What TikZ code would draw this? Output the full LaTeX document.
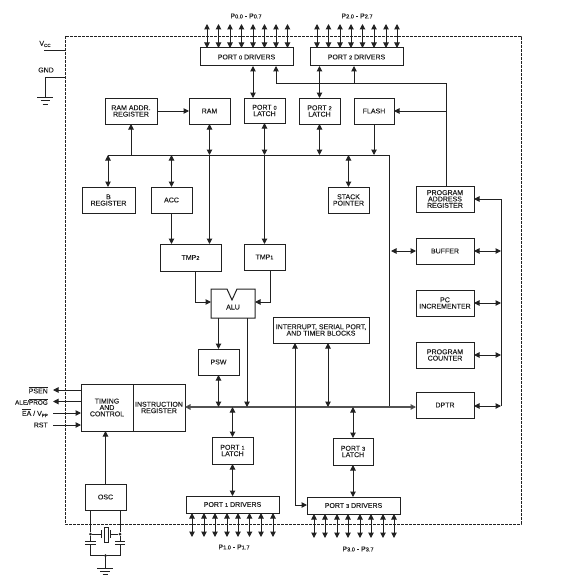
\documentclass[tikz,border=0pt]{standalone}
\usepackage{fontspec}
\setmainfont{Liberation Sans}[BoldFont={Liberation Sans},BoldFeatures={FakeBold=0.12}]
\usetikzlibrary{arrows.meta}
\newcommand{\dg}[1]{{\fontsize{5.6}{5.6}\selectfont #1}}
\newcommand{\sbs}[1]{\raisebox{-1.2pt}{\fontsize{4.5}{5}\selectfont #1}}
\newcommand{\ovl}[1]{$\overline{\mbox{#1}}$}
\newcommand{\bx}[6]{\node[blockbox,minimum width={(#4-#2)*1pt},minimum height={(#5-#3)*1pt}] (#1) at ({(#2+#4)/2},{(#3+#5)/2}) {#6};}
\definecolor{ink}{gray}{0.13}
\definecolor{busink}{gray}{0.32}
\tikzset{
  blockbox/.style={draw=ink,line width=1pt,inner sep=0pt,outer sep=0pt,align=center,font=\fontsize{7}{6.4}\selectfont\bfseries,text=ink},
  lbl/.style={inner sep=0pt,font=\fontsize{7}{7}\selectfont\bfseries,text=ink},
  wire/.style={draw=ink,line width=1pt},
  one/.style={wire,-{Triangle[length=5.5pt,width=5.5pt]}},
  two/.style={wire,{Triangle[length=5.5pt,width=5.5pt]}-{Triangle[length=5.5pt,width=5.5pt]}},
  frame/.style={draw=ink,line width=0.8pt,dash pattern=on 2.6pt off 1.4pt},
  dot/.style={circle,fill=ink,inner sep=0pt,minimum size=3pt}
}
\begin{document}
\begin{tikzpicture}[x=1pt,y=-1pt]
\useasboundingbox (0,0) rectangle (576,578);
\node[inner sep=0pt,outer sep=0pt,minimum width=456pt,minimum height=488pt] (chip) at (293,280) {};
\draw[frame] (chip.north west) rectangle (chip.south east);
% blocks
\bx{pzero}{200}{48}{293}{66}{PORT~\dg{0}~DRIVERS}
\bx{ptwo}{310}{48}{403}{66}{PORT~\dg{2}~DRIVERS}
\bx{ramaddr}{105}{98}{157}{124}{RAM ADDR.\\REGISTER}
\bx{ram}{189}{98}{230}{124}{RAM}
\bx{lzero}{244}{98}{285}{123}{PORT \dg{0}\\LATCH}
\bx{ltwo}{299}{98}{340}{124}{PORT \dg{2}\\LATCH}
\bx{flash}{354}{98}{394}{124}{FLASH}
\bx{breg}{82}{187}{135}{213}{B\\REGISTER}
\bx{acc}{151}{187}{192}{213}{ACC}
\bx{stack}{328}{187}{369}{213}{STACK\\POINTER}
\bx{par}{416}{186}{474}{212}{PROGRAM\\ADDRESS\\REGISTER}
\bx{buffer}{416}{238}{474}{264}{BUFFER}
\bx{pcinc}{416}{290}{474}{316}{PC\\INCREMENTER}
\bx{pc}{416}{342}{474}{368}{PROGRAM\\COUNTER}
\bx{dptr}{416}{392}{474}{418}{DPTR}
\bx{tmptwo}{160}{244}{221}{271}{TMP\dg{2}}
\bx{tmpone}{244}{244}{285}{270}{TMP\dg{1}}
\node[inner sep=0pt,outer sep=0pt,minimum width=44pt,minimum height=29pt,font=\fontsize{7}{7}\selectfont\bfseries,text=ink] (alu) at (233,303.5) {\raisebox{-6pt}[0pt][0pt]{ALU}};
\draw[wire,line join=miter] (alu.north west) -- ++(16,0) -- ++(5,11) -- ++(5,-11) -- (alu.north east) -- (alu.south east) -- (alu.south west) -- cycle;
\bx{psw}{198}{349}{239}{375}{PSW}
\bx{intr}{273}{317}{369}{343}{INTERRUPT, SERIAL PORT,\\AND TIMER BLOCKS}
\bx{timing}{81}{384}{133}{431}{TIMING\\AND\\CONTROL}
\bx{instr}{133}{384}{185}{431}{INSTRUCTION\\REGISTER}
\bx{osc}{85}{484}{126}{510}{OSC}
\bx{lone}{212}{437}{253}{464}{PORT \dg{1}\\LATCH}
\bx{pone}{186}{496}{279}{513}{PORT~\dg{1}~DRIVERS}
\bx{lthree}{333}{438}{373}{465}{PORT \dg{3}\\LATCH}
\bx{pthree}{307}{497}{400}{514}{PORT~\dg{3}~DRIVERS}
% labels
\node[lbl] (lpz) at (246,16) {P\dg{0.0}~-~P\dg{0.7}};
\node[lbl] (lpt) at (357,16) {P\dg{2.0}~-~P\dg{2.7}};
\node[lbl] (lpo) at (234,547) {P\dg{1.0}~-~P\dg{1.7}};
\node[lbl] (lpth) at (358,549) {P\dg{3.0}~-~P\dg{3.7}};
\node[lbl] (vcc) at (45,44) {V\sbs{CC}};
\node[lbl] (gnd) at (46,70) {GND};
\node[lbl,anchor=east] (psen) at (48,390) {\ovl{PSEN}};
\node[lbl,anchor=east] (ale) at (48,401.5) {\fontsize{6.4}{7}\selectfont ALE/\ovl{PROG}};
\node[lbl,anchor=east] (ea) at (48,413) {\ovl{EA} / V\sbs{PP}};
\node[lbl,anchor=east] (rst) at (48,425) {RST};
% pins
\foreach \x in {207,218.5,230,241.5,253,264.5,276,287.5}{\coordinate (pin) at (\x,24); \draw[two] (pin) -- (pin |- pzero.north);}
\foreach \x in {317,328.5,340,351,362.5,374,386,397}{\coordinate (pin) at (\x,24); \draw[two] (pin) -- (pin |- ptwo.north);}
\foreach \x in {192,204,215,227,238,249.5,261,273}{\coordinate (pin) at (\x,537); \draw[two] (pin |- pone.south) -- (pin);}
\foreach \x in {314,325,337,348,360,371,383,394}{\coordinate (pin) at (\x,538); \draw[two] (pin |- pthree.south) -- (pin);}
% supply
\coordinate (vccend) at (65,51); \coordinate (vccstart) at (44,51);
\draw[wire] (vccstart) -- (vccend);
\coordinate (gndin) at (65,77); \coordinate (gndbar) at (45,97);
\draw[wire] (gndin) -| (gndbar);
\draw[wire] (37,97) -- (53,97) (40.5,100.5) -- (49.5,100.5) (42.5,104) -- (47.5,104);
% buses
\coordinate (busL) at (108,155); \coordinate (busR) at (389,155);
\coordinate (ibus) at (233,407);
\draw[wire] (busL) -- (busR);
\draw[wire] (busR) -- (389,407);
\coordinate (rbusT) at (501,199); \coordinate (rbusB) at (501,406);
\draw[wire] (rbusT) -- (rbusB);
\draw[two,draw=busink,line width=1.3pt,{Triangle[length=5.5pt,width=5.5pt,fill=ink]}-{Triangle[length=5.5pt,width=5.5pt,fill=ink]}] (instr.east |- ibus) -- (dptr.west |- ibus);
% upper connectors
\coordinate (c253) at (253,0); \draw[two] (pzero.south -| c253) -- (lzero.north -| c253);
\coordinate (c319) at (319.5,0); \draw[two] (ptwo.south -| c319) -- (ltwo.north -| c319);
\draw[one] (ramaddr) -- (ram);
\coordinate (trunkT) at (446,83);
\coordinate (c276) at (276,0);
\draw[one] (par.north -| trunkT) -- (trunkT) -- (trunkT -| c276) -- (pzero.south -| c276);
\coordinate (c354) at (354,83); \draw[one] (c354) -- (ptwo.south -| c354);
\coordinate (flj) at (446,111); \draw[one] (flj) -- (flash.east |- flj);
\draw[one] (busL -| ramaddr.south) -- (ramaddr.south);
\draw[two] (ram.south) -- (ram.south |- busL);
\draw[two] (lzero.south) -- (lzero.south |- busL);
\draw[two] (ltwo.south) -- (ltwo.south |- busL);
\draw[one] (flash.south) -- (flash.south |- busL);
\draw[two] (busL) -- (breg.north -| busL);
\draw[two] (acc.north |- busL) -- (acc.north);
\draw[two] (stack.north |- busL) -- (stack.north);
\coordinate (c210) at (209.5,0); \draw[one] (busL -| c210) -- (tmptwo.north -| c210);
\coordinate (c264) at (264.5,0); \draw[one] (busL -| c264) -- (tmpone.north);
\draw[one] (acc.south) -- (tmptwo.north -| acc.south);
% alu
\coordinate (aluy) at (0,302);
\coordinate (c195) at (195,0); \coordinate (c270) at (270,0);
\draw[one] (tmptwo.south -| c195) -- (aluy -| c195) -- (alu.west |- aluy);
\draw[one] (tmpone.south -| c270) -- (aluy -| c270) -- (alu.east |- aluy);
\coordinate (c218) at (218.5,0);
\draw[one] (alu.south -| c218) -- (psw.north);
\draw[two] (psw.south) -- (ibus -| psw.south);
\coordinate (c247) at (247,0);
\draw[one] (alu.south -| c247) -- (ibus -| c247);
% lower
\draw[two] (ibus -| lone.north) -- (lone.north);
\draw[two] (lone.south) -- (pone.north -| lone.south);
\draw[two] (ibus -| lthree.north) -- (lthree.north);
\draw[two] (lthree.south) -- (pthree.north -| lthree.south);
\coordinate (c328) at (328,0);
\draw[two] (intr.south -| c328) -- (ibus -| c328);
\coordinate (c295) at (295,505);
\draw[one] (c295) -- (intr.south -| c295);
\draw[one] (c295) -- (pthree.west |- c295);
% right side
\coordinate (c391) at (391,251);
\draw[two] (c391) -- (buffer.west |- c391);
\draw[one] (rbusT) -- (par.east |- rbusT);
\draw[two] (buffer.east) -- (rbusT |- buffer.east);
\draw[two] (pcinc.east) -- (rbusT |- pcinc.east);
\draw[two] (pc.east) -- (rbusT |- pc.east);
\draw[two] (dptr.east |- rbusB) -- (rbusB);
% left side
\coordinate (c53) at (53,0);
\draw[one] (psen -| timing.west) -- (psen -| c53);
\draw[one] (ale -| timing.west) -- (ale -| c53);
\draw[one] (ea -| c53) -- (ea -| timing.west);
\draw[one] (rst -| c53) -- (rst -| timing.west);
\coordinate (c105) at (105.5,0);
\draw[one] (osc.north -| c105) -- (timing.south -| c105);
% crystal
\coordinate (xl) at (90.5,534); \coordinate (xr) at (120,534);
\coordinate (capb) at (105.5,555.5);
\node[dot] (dl) at (xl) {}; \node[dot] (dr) at (xr) {}; \node[dot] (db) at (capb) {};
\draw[wire] (osc.south -| xl) -- (dl) -- (90.5,541.5);
\draw[wire] (osc.south -| xr) -- (dr) -- (120,541.5);
\draw[wire] (85,541.5) -- (96,541.5) (115,541.5) -- (125,541.5);
\draw[wire] (85,544.5) -- (96,544.5) (115,544.5) -- (125,544.5);
\draw[wire] (90.5,544.5) |- (db) -| (120,544.5);
\draw[wire] (dl) -- (101,534) (101,530) -- (101,538);
\draw[wire] (dr) -- (110.5,534) (110.5,530) -- (110.5,538);
\draw[wire] (104,527) rectangle (108,542);
\draw[wire] (db) -- (105.5,568);
\draw[wire] (97,568) -- (113,568) (100,571) -- (110,571) (102.5,574) -- (108,574);
\end{tikzpicture}
\end{document}
